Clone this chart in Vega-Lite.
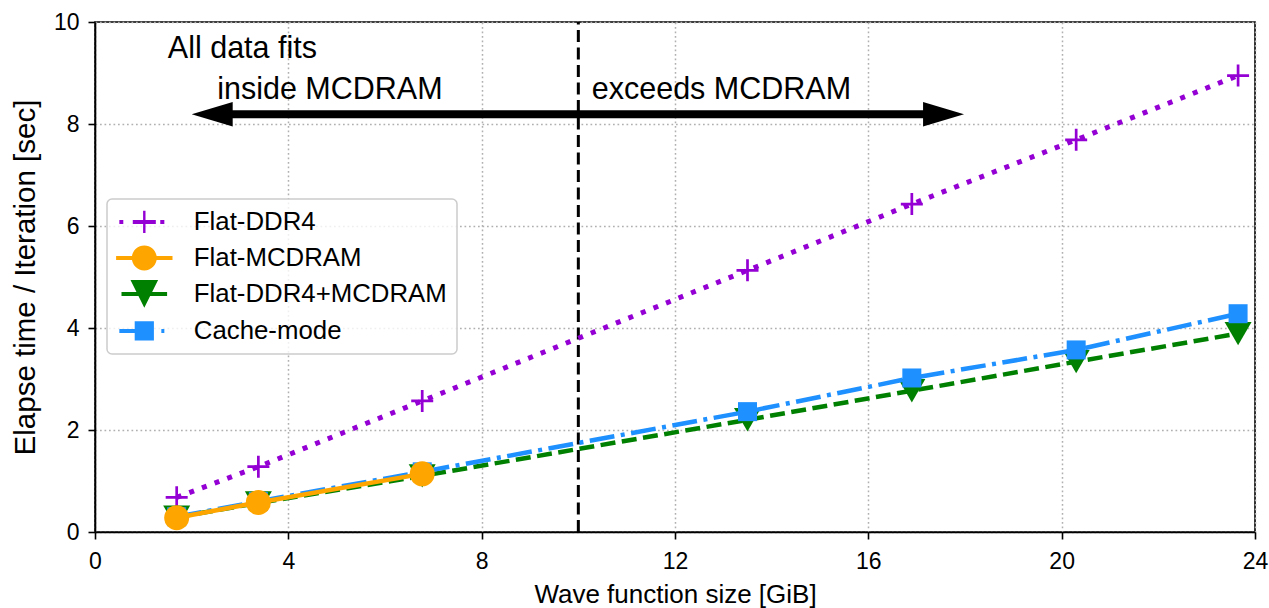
{
  "$schema": "https://vega.github.io/schema/vega-lite/v6.json",
  "width": 1160,
  "height": 510,
  "autosize": {"type": "none"},
  "padding": {"left": 95, "top": 22, "right": 14, "bottom": 76},
  "background": "white",
  "config": {
    "font": "Liberation Sans",
    "view": {"stroke": "black", "strokeWidth": 1.6},
    "axis": {
      "labelFont": "Liberation Sans",
      "labelFontSize": 23,
      "labelColor": "black",
      "titleFont": "Liberation Sans",
      "titleFontSize": 26,
      "titleFontWeight": "normal",
      "titleColor": "black",
      "domainColor": "black",
      "domainWidth": 1.6,
      "tickColor": "black",
      "tickWidth": 1.6,
      "tickSize": 7,
      "gridColor": "#b0b0b0",
      "gridDash": [1.7, 2.8],
      "gridWidth": 1.5,
      "labelFlush": false,
      "labelOverlap": false
    },
    "legend": {"strokeWidth": 1.5}
  },
  "datasets": {
    "perf": [
      {"series": "Flat-DDR4", "size": 1.69, "time": 0.68},
      {"series": "Flat-DDR4", "size": 3.38, "time": 1.28},
      {"series": "Flat-DDR4", "size": 6.77, "time": 2.57},
      {"series": "Flat-DDR4", "size": 13.5, "time": 5.13},
      {"series": "Flat-DDR4", "size": 16.9, "time": 6.43},
      {"series": "Flat-DDR4", "size": 20.3, "time": 7.69},
      {"series": "Flat-DDR4", "size": 23.65, "time": 8.95},
      {"series": "Flat-MCDRAM", "size": 1.69, "time": 0.28},
      {"series": "Flat-MCDRAM", "size": 3.38, "time": 0.58},
      {"series": "Flat-MCDRAM", "size": 6.77, "time": 1.14},
      {"series": "Flat-DDR4+MCDRAM", "size": 1.69, "time": 0.29},
      {"series": "Flat-DDR4+MCDRAM", "size": 3.38, "time": 0.57},
      {"series": "Flat-DDR4+MCDRAM", "size": 6.77, "time": 1.1},
      {"series": "Flat-DDR4+MCDRAM", "size": 13.5, "time": 2.2},
      {"series": "Flat-DDR4+MCDRAM", "size": 16.9, "time": 2.77},
      {"series": "Flat-DDR4+MCDRAM", "size": 20.3, "time": 3.34},
      {"series": "Flat-DDR4+MCDRAM", "size": 23.65, "time": 3.89},
      {"series": "Cache-mode", "size": 1.69, "time": 0.3},
      {"series": "Cache-mode", "size": 3.38, "time": 0.6},
      {"series": "Cache-mode", "size": 6.77, "time": 1.18},
      {"series": "Cache-mode", "size": 13.5, "time": 2.36},
      {"series": "Cache-mode", "size": 16.9, "time": 3.02},
      {"series": "Cache-mode", "size": 20.3, "time": 3.57},
      {"series": "Cache-mode", "size": 23.65, "time": 4.28}
    ],
    "notes": [
      {"label": "All data fits", "size": 3.05, "time": 9.29},
      {"label": "inside MCDRAM", "size": 4.86, "time": 8.5},
      {"label": "exceeds MCDRAM", "size": 12.96, "time": 8.5}
    ],
    "boundary": [{"size": 10, "time": 0, "time2": 10}],
    "shaft": [{"size": 2.6, "size2": 17.4, "time": 8.19}],
    "heads": [
      {"end": "left", "size": 2.0, "time": 8.19},
      {"end": "right", "size": 17.98, "time": 8.19}
    ]
  },
  "encoding": {
    "x": {
      "field": "size",
      "type": "quantitative",
      "scale": {"domain": [0, 24], "nice": false, "zero": false},
      "axis": {"values": [0, 4, 8, 12, 16, 20, 24], "title": "Wave function size [GiB]", "labelPadding": 11, "titlePadding": 8}
    },
    "y": {
      "field": "time",
      "type": "quantitative",
      "scale": {"domain": [0, 10], "nice": false, "zero": false},
      "axis": {"values": [0, 2, 4, 6, 8, 10], "title": "Elapse time / Iteration [sec]", "labelPadding": 9, "titlePadding": 13, "titleFontSize": 29.5}
    }
  },
  "layer": [
    {
      "data": {"name": "boundary"},
      "mark": {"type": "rule", "color": "black", "strokeWidth": 3, "strokeDash": [12, 5.5]},
      "encoding": {"y2": {"field": "time2"}}
    },
    {
      "data": {"name": "shaft"},
      "mark": {"type": "rule", "color": "black", "strokeWidth": 8},
      "encoding": {"x2": {"field": "size2"}}
    },
    {
      "data": {"name": "heads"},
      "transform": [{"filter": "datum.end == 'left'"}],
      "mark": {"type": "point", "filled": true, "opacity": 1, "color": "black", "size": 1681, "shape": "M0,0L2,-0.6L2,0.6Z"}
    },
    {
      "data": {"name": "heads"},
      "transform": [{"filter": "datum.end == 'right'"}],
      "mark": {"type": "point", "filled": true, "opacity": 1, "color": "black", "size": 1681, "shape": "M0,0L-2,-0.6L-2,0.6Z"}
    },
    {
      "data": {"name": "notes"},
      "mark": {"type": "text", "font": "Liberation Sans", "fontSize": 30.5, "align": "center", "baseline": "alphabetic", "color": "black"},
      "encoding": {"text": {"field": "label"}}
    },
    {
      "data": {"name": "perf"},
      "transform": [{"filter": "datum.series == 'Flat-DDR4'"}],
      "mark": {"type": "line", "color": "#9400d3", "strokeWidth": 5, "strokeDash": [5, 8.5]}
    },
    {
      "data": {"name": "perf"},
      "transform": [{"filter": "datum.series == 'Flat-DDR4'"}],
      "mark": {"type": "point", "color": "#9400d3", "filled": false, "opacity": 1, "strokeWidth": 2.7, "size": 484, "shape": "M-1,0H1M0,-1V1"}
    },
    {
      "data": {"name": "perf"},
      "transform": [{"filter": "datum.series == 'Flat-DDR4+MCDRAM'"}],
      "mark": {"type": "line", "color": "#008000", "strokeWidth": 4.5, "strokeDash": [15, 6.5]}
    },
    {
      "data": {"name": "perf"},
      "transform": [{"filter": "datum.series == 'Flat-DDR4+MCDRAM'"}],
      "mark": {"type": "point", "color": "#008000", "filled": true, "opacity": 1, "size": 729, "shape": "triangle-down"}
    },
    {
      "data": {"name": "perf"},
      "transform": [{"filter": "datum.series == 'Cache-mode'"}],
      "mark": {"type": "line", "color": "#1e90ff", "strokeWidth": 4.5, "strokeDash": [25, 6.5, 4, 6.5]}
    },
    {
      "data": {"name": "perf"},
      "transform": [{"filter": "datum.series == 'Cache-mode'"}],
      "mark": {"type": "point", "color": "#1e90ff", "filled": true, "opacity": 1, "size": 361, "shape": "square"}
    },
    {
      "data": {"name": "perf"},
      "transform": [{"filter": "datum.series == 'Flat-MCDRAM'"}],
      "mark": {"type": "line", "color": "#ffa500", "strokeWidth": 4.5}
    },
    {
      "data": {"name": "perf"},
      "transform": [{"filter": "datum.series == 'Flat-MCDRAM'"}],
      "mark": {"type": "point", "color": "#ffa500", "filled": true, "opacity": 1, "size": 625, "shape": "circle"}
    },
    {
      "data": {"name": "perf"},
      "transform": [{"filter": "datum.time < 0"}],
      "mark": {"type": "point", "filled": true, "opacity": 1, "size": 576},
      "encoding": {
        "color": {
          "field": "series", "type": "nominal",
          "scale": {"domain": ["Flat-DDR4", "Flat-MCDRAM", "Flat-DDR4+MCDRAM", "Cache-mode"], "range": ["#9400d3", "#ffa500", "#008000", "#1e90ff"]},
          "legend": {"title": null, "orient": "none", "legendX": 12, "legendY": 177, "padding": 10, "fillColor": "rgba(255,255,255,0.8)", "strokeColor": "#cccccc", "cornerRadius": 5, "symbolSize": 576, "symbolStrokeWidth": 0, "symbolOpacity": 1, "labelFont": "Liberation Sans", "labelFontSize": 25.8, "labelColor": "black", "labelOffset": 51, "rowPadding": 9, "labelLimit": 500}
        },
        "shape": {
          "field": "series", "type": "nominal",
          "scale": {"domain": ["Flat-DDR4", "Flat-MCDRAM", "Flat-DDR4+MCDRAM", "Cache-mode"], "range": [
            "M-0.88,-0.167H-0.55V0.167H-0.88Z M0.24,-0.167H2.16V0.167H0.24Z M1.1,-0.92H1.3V0.92H1.1Z M2.53,-0.167H2.87V0.167H2.53Z",
            "M-1.15,-0.167H3.55V0.167H-1.15Z M0.16,0A1.04,1.04,0,1,1,2.24,0A1.04,1.04,0,1,1,0.16,0Z",
            "M-0.7,-0.167H3.1V0.167H-0.7Z M1.2,1.15L0.05,-1.15L2.35,-1.15Z",
            "M-0.88,-0.167H0.45V0.167H-0.88Z M0.4,-0.8H2V0.8H0.4Z M2.62,-0.167H2.87V0.167H2.62Z"
          ]},
          "legend": {"title": null, "orient": "none", "legendX": 12, "legendY": 177, "padding": 10, "fillColor": "rgba(255,255,255,0.8)", "strokeColor": "#cccccc", "cornerRadius": 5, "symbolSize": 576, "symbolStrokeWidth": 0, "symbolOpacity": 1, "labelFont": "Liberation Sans", "labelFontSize": 25.8, "labelColor": "black", "labelOffset": 51, "rowPadding": 9, "labelLimit": 500}
        }
      }
    }
  ]
}
